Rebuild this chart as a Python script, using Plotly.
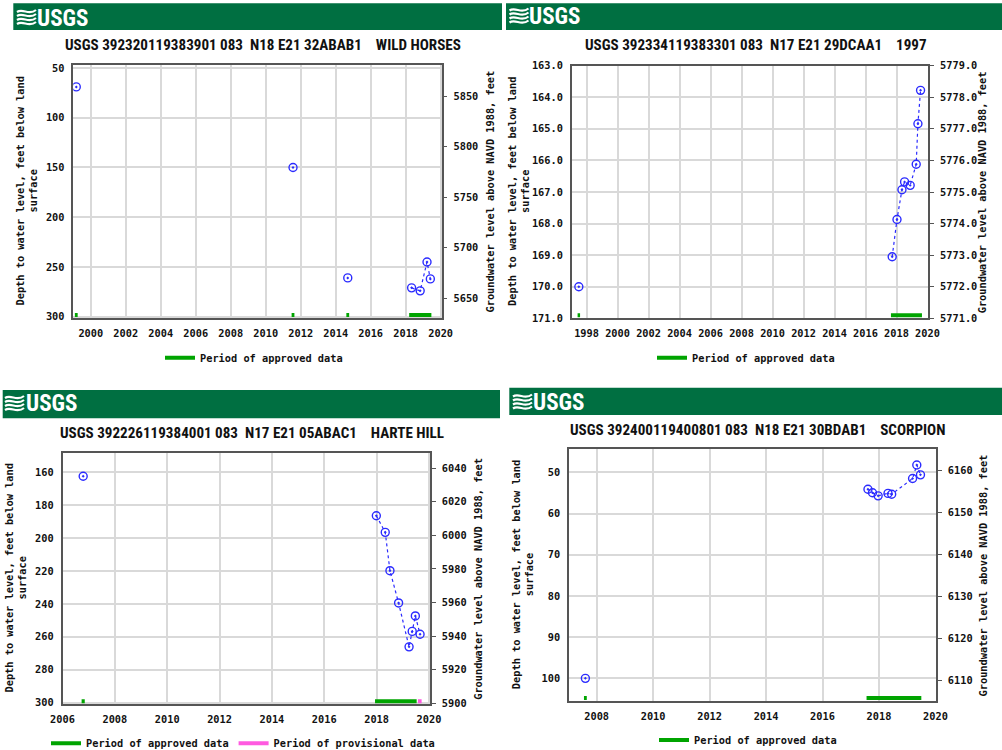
import plotly.graph_objects as go

W, H = 1002, 750

# ---------------- data ----------------
titles = [
    "USGS 392320119383901 083  N18 E21 32ABAB1    WILD HORSES",
    "USGS 392334119383301 083  N17 E21 29DCAA1    1997",
    "USGS 392226119384001 083  N17 E21 05ABAC1    HARTE HILL",
    "USGS 392400119400801 083  N18 E21 30BDAB1    SCORPION",
]

p1_years = [1999.17, 2011.56, 2014.69, 2018.34, 2018.83, 2019.22, 2019.41]
p1_depth = [69, 150, 261, 271, 274, 245, 262]
p1_approved = [(1999.09, 1999.25), (2011.48, 2011.64), (2014.61, 2014.77), (2018.20, 2019.47)]
p1_provisional = []

p2_years = [1997.50, 2017.72, 2018.03, 2018.35, 2018.52, 2018.88, 2019.27, 2019.38, 2019.55]
p2_depth = [170.0, 169.05, 167.87, 166.93, 166.68, 166.79, 166.12, 164.84, 163.78]
p2_approved = [(1997.42, 1997.58), (2017.64, 2019.64)]
p2_provisional = []

p3_years = [2006.79, 2017.99, 2018.33, 2018.51, 2018.84, 2019.24, 2019.36, 2019.48, 2019.66]
p3_depth = [162.4, 186.4, 196.5, 219.8, 239.4, 266.1, 256.7, 247.3, 258.4]
p3_approved = [(2006.73, 2006.85), (2017.94, 2019.53)]
p3_provisional = [(2019.58, 2019.72)]

p4_years = [2007.60, 2017.61, 2017.77, 2017.97, 2018.32, 2018.45, 2019.19, 2019.34, 2019.47]
p4_depth = [100.0, 54.1, 54.95, 55.7, 55.1, 55.3, 51.5, 48.2, 50.6]
p4_approved = [(2007.55, 2007.65), (2017.56, 2019.50)]
p4_provisional = []

p1_xticks = list(range(2000, 2021, 2))
p2_xticks = list(range(1998, 2021, 2))
p3_xticks = list(range(2006, 2021, 2))
p4_xticks = list(range(2008, 2021, 2))

p1_left_ticks = [50, 100, 150, 200, 250, 300]
p2_left_ticks = [163, 164, 165, 166, 167, 168, 169, 170, 171]
p3_left_ticks = [160, 180, 200, 220, 240, 260, 280, 300]
p4_left_ticks = [50, 60, 70, 80, 90, 100]

p1_right_ticks = [5650, 5700, 5750, 5800, 5850]
p2_right_ticks = [5771, 5772, 5773, 5774, 5775, 5776, 5777, 5778, 5779]
p3_right_ticks = [5900, 5920, 5940, 5960, 5980, 6000, 6020, 6040]
p4_right_ticks = [6110, 6120, 6130, 6140, 6150, 6160]

left_title = "Depth to water level, feet below land<br>surface"
right_title = "Groundwater level above NAVD 1988, feet"
approved_label = "Period of approved data"
provisional_label = "Period of provisional data"

# ---------------- layout geometry (pixels) ----------------
panels = [
    dict(years=p1_years, depth=p1_depth, appr=p1_approved, prov=p1_provisional,
         xt=p1_xticks, lt=p1_left_ticks, rt=p1_right_ticks, fmt="d",
         box=(73.3, 65.0, 441.7, 318.0), xr=[1999.0, 2020.06],
         yl=[301.3, 47.0], yr=[5630.2, 5880.7],
         banner=(13.3, 3.3, 502, 30), logo=(17, 62.5, 18),
         title=(263, 45), ltx=26, rtx=489, leg=(254, 357.7)),
    dict(years=p2_years, depth=p2_depth, appr=p2_approved, prov=p2_provisional,
         xt=p2_xticks, lt=p2_left_ticks, rt=p2_right_ticks, fmt=".1f",
         box=(571.7, 65.7, 928.3, 318.3), xr=[1997.04, 2020.05],
         yl=[171.0, 163.0], yr=[5771.0, 5779.0],
         banner=(506, 3.3, 1002, 30), logo=(509.5, 554, 16.5),
         title=(755.5, 45), ltx=518, rtx=982.3, leg=(746, 357.7)),
    dict(years=p3_years, depth=p3_depth, appr=p3_approved, prov=p3_provisional,
         xt=p3_xticks, lt=p3_left_ticks, rt=p3_right_ticks, fmt="d",
         box=(62.5, 452.7, 430.0, 704.3), xr=[2006.0, 2020.04],
         yl=[301.0, 148.1], yr=[5899.4, 6049.2],
         banner=(2.7, 390, 500, 418.3), logo=(5, 51, 404),
         title=(251.7, 433.3), ltx=15, rtx=477.3, leg=(243, 743.3)),
    dict(years=p4_years, depth=p4_depth, appr=p4_approved, prov=p4_provisional,
         xt=p4_xticks, lt=p4_left_ticks, rt=p4_right_ticks, fmt="d",
         box=(569.0, 449.3, 936.0, 701.0), xr=[2007.02, 2020.02],
         yl=[105.5, 44.4], yr=[6105.2, 6165.1],
         banner=(509.3, 387.7, 1002, 415), logo=(513, 558, 402.5),
         title=(757, 430), ltx=522, rtx=983.3, leg=(748, 740)),
]

MONO = "DejaVu Sans Mono"
TITLE_FONT = "Roboto Condensed, Liberation Sans Narrow, Arial Narrow, Roboto, Liberation Sans"
GREEN_BANNER = "#006f41"
POINT_BLUE = "#2b2bff"
APPROVED = "#00a400"
PROVISIONAL = "#ff5ae0"
GRID = "#d9d9d9"
AXIS = "#555555"


def px(x):
    return x / W


def py(y):
    return 1 - y / H


fig = go.Figure()
shapes = []
annotations = []
layout = dict(
    template="none",
    width=W, height=H, margin=dict(l=0, r=0, t=0, b=0, pad=0, autoexpand=False),
    paper_bgcolor="white", plot_bgcolor="white", showlegend=True,
    font=dict(family=MONO, size=10.3, color="#111"),
)

monofont = dict(family=MONO, size=10.3, color="#111", weight="bold")

for i, p in enumerate(panels, start=1):
    xa = "x" if i == 1 else f"x{i}"
    ya = "y" if i == 1 else f"y{i}"
    yr_axis = f"y{i + 4}"
    leg_name = "legend" if i == 1 else f"legend{i}"
    l, t, r, b = p["box"]

    # observation points: connect only close-in-time neighbours
    seg_x, seg_y = [], []
    for k, (yv, dv) in enumerate(zip(p["years"], p["depth"])):
        if k > 0 and yv - p["years"][k - 1] > 1.5:
            seg_x.append(None)
            seg_y.append(None)
        seg_x.append(yv)
        seg_y.append(dv)
    fig.add_trace(go.Scatter(
        x=seg_x, y=seg_y, xaxis=xa, yaxis=ya, mode="lines+markers",
        line=dict(color=POINT_BLUE, width=1.2, dash="dot"),
        marker=dict(symbol="circle-open-dot", size=8, color=POINT_BLUE,
                    line=dict(width=1.4, color=POINT_BLUE)),
        showlegend=False, hoverinfo="x+y", connectgaps=False,
    ))

    # invisible anchor trace so the right-hand elevation axis is drawn
    fig.add_trace(go.Scatter(
        x=[p["xr"][0]], y=[p["yr"][0]], xaxis=xa, yaxis=yr_axis, mode="markers",
        marker=dict(opacity=0), showlegend=False, hoverinfo="skip",
    ))

    # approval period bars (drawn near bottom of plot)
    span = p["yl"][0] - p["yl"][1]
    bar_y = p["yl"][0] - span * (3.0 / (b - t))
    for periods, color, name in ((p["appr"], APPROVED, approved_label),
                                 (p["prov"], PROVISIONAL, provisional_label)):
        if not periods:
            continue
        bx, by = [], []
        for s, e in periods:
            bx += [s, e, None]
            by += [bar_y, bar_y, None]
        fig.add_trace(go.Scatter(
            x=bx, y=by, xaxis=xa, yaxis=ya, mode="lines",
            line=dict(color=color, width=4), name=name,
            legend=leg_name, hoverinfo="skip",
        ))

    # axes
    xkey = "xaxis" if i == 1 else f"xaxis{i}"
    ykey = "yaxis" if i == 1 else f"yaxis{i}"
    layout[xkey] = dict(
        domain=[px(l), px(r)], anchor=ya, range=p["xr"], automargin=False,
        tickvals=p["xt"], ticktext=[str(v) for v in p["xt"]],
        showgrid=True, gridcolor=GRID, gridwidth=1.5, zeroline=False,
        showline=True, linecolor=AXIS, linewidth=1.5, mirror=True,
        ticks="", ticklabelstandoff=5, tickfont=monofont,
    )
    fmt = p["fmt"]
    layout[ykey] = dict(
        domain=[py(b), py(t)], anchor=xa, range=p["yl"], automargin=False,
        tickvals=p["lt"], ticktext=[format(v, fmt) for v in p["lt"]],
        showgrid=True, gridcolor=GRID, gridwidth=1.5, zeroline=False,
        showline=True, linecolor=AXIS, linewidth=1.5,
        ticks="", ticklabelstandoff=5, tickfont=monofont,
    )
    layout[f"yaxis{i + 4}"] = dict(
        overlaying=ya, anchor=xa, side="right", range=p["yr"], automargin=False,
        tickvals=p["rt"], ticktext=[format(v, fmt) for v in p["rt"]],
        showgrid=False, zeroline=False,
        showline=True, linecolor=AXIS, linewidth=1.5,
        ticks="outside", ticklen=4, tickcolor=AXIS, ticklabelstandoff=4,
        tickfont=monofont,
    )

    # legend
    lx, ly = p["leg"]
    layout[leg_name] = dict(
        orientation="h", x=px(lx), y=py(ly), xanchor="center", yanchor="middle",
        font=monofont, bgcolor="rgba(0,0,0,0)", itemwidth=30, tracegroupgap=0,
    )

    # banner
    bx0, by0, bx1, by1 = p["banner"]
    shapes.append(dict(type="rect", xref="paper", yref="paper",
                       x0=px(bx0), x1=px(bx1), y0=py(by1), y1=py(by0),
                       fillcolor=GREEN_BANNER, line=dict(width=0), layer="below"))
    # logo wave mark
    sx, tx, cy = p["logo"]
    for k in range(4):
        yy = cy - 6 + k * 4
        path = (f"M {px(sx)},{py(yy)} C {px(sx + 6)},{py(yy - 4)} "
                f"{px(sx + 12)},{py(yy + 4)} {px(sx + 19)},{py(yy - 2)}")
        shapes.append(dict(type="path", xref="paper", yref="paper", path=path,
                           line=dict(color="white", width=2.2)))
    annotations.append(dict(
        text="<b>USGS</b>", x=px(tx), y=py(cy), xref="paper", yref="paper",
        xanchor="center", yanchor="middle", showarrow=False,
        font=dict(family=TITLE_FONT, size=23, color="white"),
    ))

    # title
    ttx, tty = p["title"]
    annotations.append(dict(
        text="<b>" + titles[i - 1].replace("  ", "\u00a0\u00a0") + "</b>",
        x=px(ttx), y=py(tty), xref="paper", yref="paper",
        xanchor="center", yanchor="middle", showarrow=False,
        font=dict(family=TITLE_FONT, size=15.1, color="#111"),
    ))

    # axis titles
    mid = (t + b) / 2
    annotations.append(dict(
        text="<b>" + left_title + "</b>", x=px(p["ltx"]), y=py(mid),
        xref="paper", yref="paper", xanchor="center", yanchor="middle",
        showarrow=False, textangle=-90,
        font=dict(family=MONO, size=10.3, color="#111"),
    ))
    annotations.append(dict(
        text="<b>" + right_title + "</b>", x=px(p["rtx"]), y=py(mid),
        xref="paper", yref="paper", xanchor="center", yanchor="middle",
        showarrow=False, textangle=-90,
        font=dict(family=MONO, size=10.3, color="#111"),
    ))

layout["shapes"] = shapes
layout["annotations"] = annotations
fig.update_layout(**layout)
fig.write_html("out.html")
